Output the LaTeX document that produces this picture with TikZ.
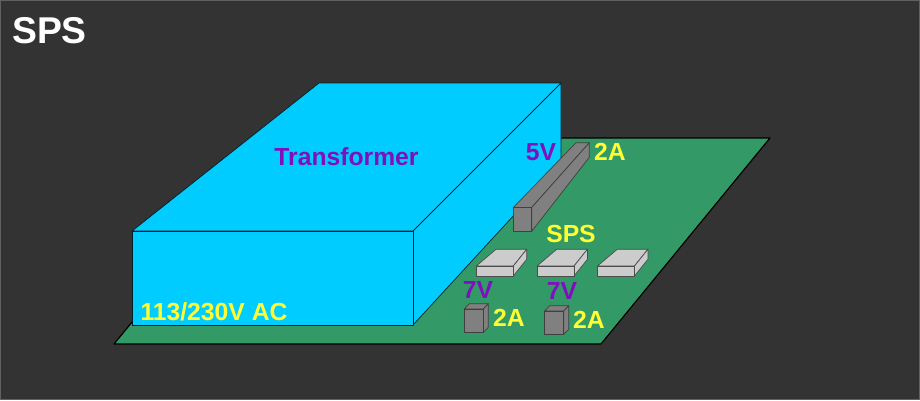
\documentclass[tikz,border=0pt]{standalone}
\usepackage{fontspec}
\setmainfont{Liberation Sans}
\definecolor{panelgray}{HTML}{333333}
\definecolor{paneledge}{HTML}{606060}
\definecolor{boardgreen}{HTML}{339966}
\definecolor{coreblue}{HTML}{00CCFF}
\definecolor{voltpurple}{HTML}{7F0FBF}
\definecolor{ampyellow}{HTML}{FFFF33}
\tikzset{
    board/.style={draw=black, fill=boardgreen, line width=1.2bp, line join=round},
    core/.style={draw=black!85!coreblue, fill=coreblue, line width=0.7bp, line join=round},
    pin/.style={draw=black!75, fill=black!50, line width=0.7bp, line join=round},
    chip/.style={draw=black!70, fill=black!20, line width=0.7bp, line join=round},
    volt/.style={text=voltpurple, font=\fontsize{24.7bp}{24.7bp}\selectfont\bfseries},
    amp/.style={text=ampyellow, font=\fontsize{24.7bp}{24.7bp}\selectfont\bfseries},
    title/.style={text=white, font=\fontsize{37.3bp}{37.3bp}\selectfont\bfseries}
}
\begin{document}
\begin{tikzpicture}[x=1bp, y=-1bp]
    \useasboundingbox (0,0) rectangle (920,400);
    \fill [panelgray, draw=paneledge, line width=0.8bp] (0.4,0.4) rectangle (919.6,399.6);
    \node [title, anchor=west, inner sep=0pt] (sps) at (12,31) {SPS};
    % board and transformer
    \draw [board] (114,344) -- (283,138) -- (770,138) -- (601,344) -- cycle;
    \draw [core] (132,231) -- (319,83) -- (561,83) -- (413,231) -- cycle;
    \draw [core] (413,231) -- (561,83) -- (561,164) -- (413,325) -- cycle;
    \draw [core] (132,231) rectangle (413,325);
    % long connector
    \draw [pin] (513.3,207.5) -- (576,142.7) -- (589.3,142.7) -- (531.7,207.5) -- cycle;
    \draw [pin] (531.7,207.5) -- (589.3,142.7) -- (589.3,157.3) -- (531.7,231.3) -- cycle;
    \draw [pin] (513.3,207.5) rectangle (531.7,231.3);
    % three chips
    \foreach \dx in {0, 60.7, 121.2} {
        \draw [chip] (476.3+\dx,266) -- (496+\dx,249.3) -- (526.7+\dx,249.3) -- (513.3+\dx,266) -- cycle;
        \draw [chip] (513.3+\dx,266) -- (526.7+\dx,249.3) -- (526.7+\dx,259.3) -- (513.3+\dx,276) -- cycle;
        \draw [chip] (476.3+\dx,266) rectangle (513.3+\dx,276);
    }
    % small connectors
    \foreach \dx/\dy in {0/0, 80.4/2} {
        \draw [pin] (464.3+\dx,309+\dy) -- (469.3+\dx,303.7+\dy) -- (488.3+\dx,303.7+\dy) -- (483.3+\dx,309+\dy) -- cycle;
        \draw [pin] (483.3+\dx,309+\dy) -- (488.3+\dx,303.7+\dy) -- (488.3+\dx,327.3+\dy) -- (483.3+\dx,332.3+\dy) -- cycle;
        \draw [pin] (464.3+\dx,309+\dy) rectangle (483.3+\dx,332.3+\dy);
    }
    % labels
    \node [volt] (transformer) at (346.5,157) {Transformer};
    \node [amp] (mains) at (214,312) {113/230V AC};
    \node [volt] (fivev) at (541,152) {5V};
    \node [amp] (fiveamp) at (610,152) {2A};
    \node [amp] (spsboard) at (571,234) {SPS};
    \node [volt] (sevena) at (478,290) {7V};
    \node [volt] (sevenb) at (562,291) {7V};
    \node [amp] (ampa) at (509,318) {2A};
    \node [amp] (ampb) at (589,320) {2A};
\end{tikzpicture}
\end{document}
